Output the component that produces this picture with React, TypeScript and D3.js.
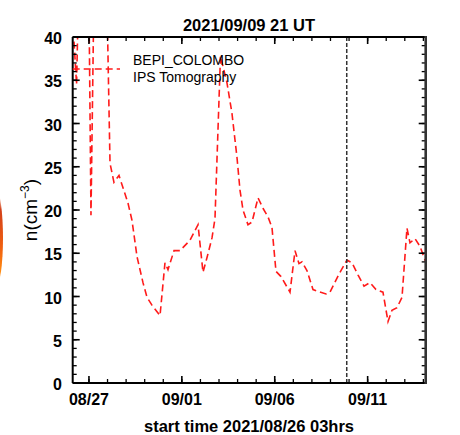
import React from "react";
import * as d3 from "d3";

const titleText = "2021/09/09 21 UT";
const xLabelText = "start time 2021/08/26 03hrs";
const legendNames = ["BEPI_COLOMBO", "IPS Tomography"];
const xDomain = ["2021-08-26T03:00", "2021-09-14T03:00"];
const markerTime = "2021-09-09T21:00";
const yMax = 40;
const xMajorTicks = ["2021-08-27T00:00", "2021-09-01T00:00", "2021-09-06T00:00", "2021-09-11T00:00"];
const xTickLabels = ["08/27", "09/01", "09/06", "09/11"];
const yMajorTicks = [0, 5, 10, 15, 20, 25, 30, 35, 40];

const ipsTimes = [
  "2021-08-26T03:00", "2021-08-26T08:00", "2021-08-26T10:30", "2021-08-26T23:24",
  "2021-08-27T02:36", "2021-08-27T07:12", "2021-08-27T23:18", "2021-08-28T03:12",
  "2021-08-28T08:18", "2021-08-28T14:48", "2021-08-29T02:24", "2021-08-29T07:36",
  "2021-08-29T14:06", "2021-08-29T21:48", "2021-08-30T03:00", "2021-08-30T09:24",
  "2021-08-30T19:48", "2021-08-31T02:12", "2021-08-31T06:06", "2021-08-31T13:54",
  "2021-08-31T21:36", "2021-09-01T10:30", "2021-09-01T20:54", "2021-09-02T03:18",
  "2021-09-02T08:30", "2021-09-02T15:00", "2021-09-02T18:48", "2021-09-03T01:54",
  "2021-09-03T10:18", "2021-09-03T16:42", "2021-09-03T23:12", "2021-09-04T03:06",
  "2021-09-04T07:00", "2021-09-04T13:24", "2021-09-04T18:36", "2021-09-05T02:24",
  "2021-09-05T08:48", "2021-09-05T15:18", "2021-09-05T20:24", "2021-09-06T01:36",
  "2021-09-06T08:06", "2021-09-06T19:42", "2021-09-07T02:12", "2021-09-07T07:18",
  "2021-09-07T11:12", "2021-09-07T17:36", "2021-09-08T01:24", "2021-09-08T18:12",
  "2021-09-08T23:24", "2021-09-09T11:00", "2021-09-09T21:18", "2021-09-10T03:48",
  "2021-09-10T11:30", "2021-09-10T19:18", "2021-09-11T03:00", "2021-09-11T10:48",
  "2021-09-11T19:48", "2021-09-12T02:18", "2021-09-12T07:24", "2021-09-12T13:54",
  "2021-09-12T20:24", "2021-09-13T02:48", "2021-09-13T06:42", "2021-09-13T13:12",
  "2021-09-13T19:36", "2021-09-14T03:00",
];
const ipsValues = [
  42, 34.5, 45, 50,
  19.4, 50, 44, 25.4,
  23.2, 24.0, 20.8, 18.8,
  14.6, 11.6, 9.9, 9.0,
  7.8, 13.9, 13.1, 15.3,
  15.3, 16.5, 18.3, 12.8,
  14.5, 16.8, 19.0, 37.8,
  34.7, 31.2, 26.1, 22.3,
  20.0, 18.3, 18.6, 21.4,
  20.2, 19.2, 18.0, 12.9,
  12.3, 10.5, 15.3, 13.8,
  14.0, 13.0, 10.8, 10.3,
  10.5, 12.6, 14.2, 13.9,
  12.5, 11.2, 11.6, 10.8,
  10.5, 7.1, 8.4, 8.7,
  9.9, 17.9, 16.2, 16.7,
  15.8, 14.0,
];

const W = 460;
const H = 435;
const M = { left: 72.7, right: 425.7, top: 37, bottom: 383 };
const FONT = "'Liberation Sans', Arial, sans-serif";

export default function App() {
  const parse = d3.utcParse("%Y-%m-%dT%H:%M");
  const x = d3
    .scaleUtc()
    .domain(xDomain.map((s) => parse(s) as Date))
    .range([M.left, M.right]);
  const y = d3.scaleLinear().domain([0, yMax]).range([M.bottom, M.top]);

  const data = ipsTimes.map((t, i) => ({ t: parse(t) as Date, v: ipsValues[i] }));
  const line = d3
    .line<{ t: Date; v: number }>()
    .x((d) => x(d.t))
    .y((d) => y(d.v));

  const xMinor = d3.utcDay.range(x.domain()[0], x.domain()[1]);
  const yMinor = d3.range(0, yMax + 1, 1);
  const xMajorDates = xMajorTicks.map((s) => parse(s) as Date);
  const mx = x(parse(markerTime) as Date);

  const majorLen = 7;
  const minorLen = 4;

  return (
    <svg
      width={W}
      height={H}
      style={{ position: "absolute", left: 0, top: 0, background: "#fff" }}
      fontFamily={FONT}
    >
      <defs>
        <clipPath id="plotClip">
          <rect x={M.left} y={M.top} width={M.right - M.left} height={M.bottom - M.top} />
        </clipPath>
        <linearGradient id="blob" x1="0" y1="0" x2="0" y2="1">
          <stop offset="0" stopColor="#f0a070" stopOpacity="0" />
          <stop offset="0.2" stopColor="#d2401a" />
          <stop offset="0.6" stopColor="#f06010" />
          <stop offset="0.85" stopColor="#ff8a10" />
          <stop offset="1" stopColor="#ffb060" stopOpacity="0" />
        </linearGradient>
      </defs>
      <rect x={0} y={0} width={W} height={H} fill="#fff" />
      <ellipse cx={-4} cy={238} rx={7} ry={48} fill="url(#blob)" />

      {/* data line */}
      <g clipPath="url(#plotClip)">
        <path
          d={line(data) || ""}
          fill="none"
          stroke="#ff1a1a"
          strokeWidth={1.6}
          strokeDasharray="7,4"
        />
      </g>

      {/* marker line */}
      <line
        x1={mx}
        x2={mx}
        y1={M.top}
        y2={M.bottom}
        stroke="#333"
        strokeWidth={1.5}
        strokeDasharray="4,2"
      />

      {/* x ticks bottom and top */}
      {xMinor.map((d, i) => (
        <g key={"xm" + i}>
          <line x1={x(d)} x2={x(d)} y1={M.bottom} y2={M.bottom - minorLen} stroke="#000" strokeWidth={1.3} />
          <line x1={x(d)} x2={x(d)} y1={M.top} y2={M.top + minorLen} stroke="#000" strokeWidth={1.3} />
        </g>
      ))}
      {xMajorDates.map((d, i) => (
        <g key={"xM" + i}>
          <line x1={x(d)} x2={x(d)} y1={M.bottom} y2={M.bottom - majorLen} stroke="#000" strokeWidth={1.6} />
          <line x1={x(d)} x2={x(d)} y1={M.top} y2={M.top + majorLen} stroke="#000" strokeWidth={1.6} />
          <text x={x(d)} y={405} textAnchor="middle" fontSize={16} fontWeight="bold" fill="#000">
            {xTickLabels[i]}
          </text>
        </g>
      ))}

      {/* y ticks left and right */}
      {yMinor.map((v) => (
        <g key={"ym" + v}>
          <line x1={M.left} x2={M.left + minorLen} y1={y(v)} y2={y(v)} stroke="#000" strokeWidth={1.3} />
          <line x1={M.right} x2={M.right - minorLen} y1={y(v)} y2={y(v)} stroke="#000" strokeWidth={1.3} />
        </g>
      ))}
      {yMajorTicks.map((v) => (
        <g key={"yM" + v}>
          <line x1={M.left} x2={M.left + majorLen} y1={y(v)} y2={y(v)} stroke="#000" strokeWidth={1.6} />
          <line x1={M.right} x2={M.right - majorLen} y1={y(v)} y2={y(v)} stroke="#000" strokeWidth={1.6} />
          <text x={62} y={y(v) + 7} textAnchor="end" fontSize={16} fontWeight="bold" fill="#000">
            {v}
          </text>
        </g>
      ))}

      {/* frame */}
      <line x1={M.left} x2={M.right} y1={M.bottom} y2={M.bottom} stroke="#000" strokeWidth={2} />
      <line x1={M.left} x2={M.right} y1={M.top} y2={M.top} stroke="#000" strokeWidth={2} />
      <line x1={M.left} x2={M.left} y1={M.top} y2={M.bottom} stroke="#000" strokeWidth={2} />
      <line x1={M.right} x2={M.right} y1={M.top - 1} y2={M.bottom + 1} stroke="#333" strokeWidth={2.6} />

      {/* legend */}
      <line x1={M.left} x2={120} y1={69} y2={69} stroke="#ff1a1a" strokeWidth={1.6} strokeDasharray="7,4" />
      <text x={133} y={65} fontSize={14} fill="#000">{legendNames[0]}</text>
      <text x={133} y={81.5} fontSize={14} fill="#000">{legendNames[1]}</text>

      {/* titles */}
      <text x={249} y={31} textAnchor="middle" fontSize={16.5} fontWeight="bold" fill="#000">
        {titleText}
      </text>
      <text x={249} y={432} textAnchor="middle" fontSize={16.5} fontWeight="bold" fill="#000">
        {xLabelText}
      </text>
      <text transform="translate(37,210) rotate(-90)" textAnchor="middle" fontSize={19} fill="#000">
        n(cm
        <tspan fontSize={12} dy={-8}>−3</tspan>
        <tspan dy={8}>)</tspan>
      </text>
    </svg>
  );
}
